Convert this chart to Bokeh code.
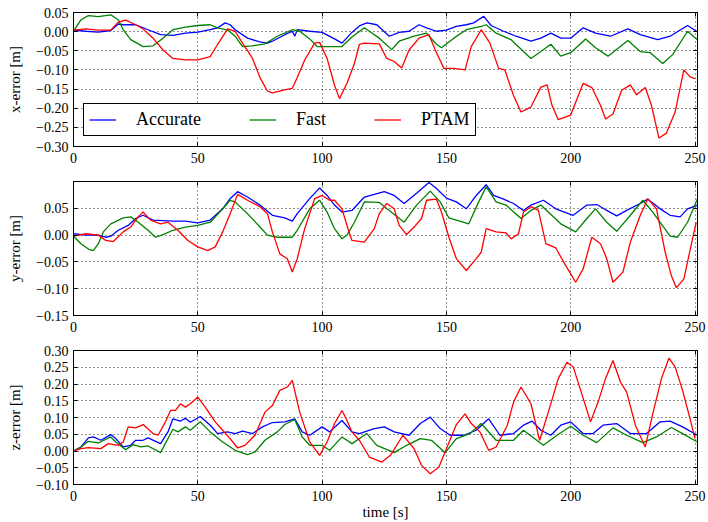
from bokeh.plotting import figure
from bokeh.models import Range1d, FixedTicker, LinearAxis, CustomJSTickFormatter
from bokeh.layouts import column
from bokeh.embed import file_html
from bokeh.resources import INLINE

# ---------------- data ----------------
series_names = ["Accurate", "Fast", "PTAM"]
series_colors = ["#0000ff", "#008000", "#ff0000"]

x_ticks = [0, 50, 100, 150, 200, 250]
xerr_ticks = [-0.30, -0.25, -0.20, -0.15, -0.10, -0.05, 0.0, 0.05]
yerr_ticks = [-0.15, -0.10, -0.05, 0.0, 0.05]
zerr_ticks = [-0.10, -0.05, 0.0, 0.05, 0.10, 0.15, 0.20, 0.25, 0.30]

# x-error
acc_x_t = [0,5,10,15,18,20,25,30,35,40,45,50,55,58,61,63,65,70,75,78,80,85,88,89,90,95,100,105,108,112,
           115,118,122,127,131,135,139,142,146,150,154,158,161,165,168,173,178,184,188,192,196,200,205,210,216,
           223,228,235,240,247,251]
acc_x_v = [0.004,0.001,-0.001,0.003,0.02,0.018,0.018,0.005,-0.008,-0.01,-0.004,-0.001,0.005,0.01,0.023,0.018,
           0.005,-0.017,-0.027,-0.03,-0.025,-0.008,0.001,-0.012,0.005,0.001,-0.002,-0.019,-0.03,-0.002,
           0.015,0.023,0.018,-0.012,-0.002,0.001,0.018,0.01,0.001,0.004,0.014,0.018,0.023,0.04,0.016,0.001,
           -0.012,-0.025,-0.017,-0.004,-0.017,-0.017,0.01,-0.004,-0.012,0.007,-0.008,-0.021,-0.012,0.016,-0.001]
fast_x_t = [0,3,6,10,15,18,20,23,28,32,36,40,45,50,55,58,62,65,68,72,77,82,88,91,95,98,105,108,112,117,
            119,123,128,131,137,142,146,148,153,158,164,166,170,176,181,184,188,192,196,200,206,210,215,223,
            228,232,237,241,247,251]
fast_x_v = [0.001,0.031,0.042,0.039,0.044,0.031,0.005,-0.021,-0.039,-0.037,-0.017,0.005,0.012,0.016,0.018,
            0.01,0.004,-0.012,-0.039,-0.037,-0.032,-0.012,0.005,0.001,-0.019,-0.039,-0.039,-0.039,-0.014,0.01,
            0.001,-0.017,-0.047,-0.025,-0.012,-0.004,-0.033,-0.042,-0.017,0.005,0.014,0.018,-0.004,-0.021,
            -0.052,-0.07,-0.052,-0.033,-0.064,-0.055,-0.019,-0.042,-0.064,-0.023,-0.052,-0.055,-0.083,-0.06,
            0.001,-0.021]
ptam_x_t = [0,5,10,15,18,21,25,28,32,36,40,45,50,55,58,62,65,68,72,75,78,80,85,88,90,93,97,99,102,105,
            107,110,113,115,117,123,126,129,132,135,139,143,145.5,149,153,157.5,160,164,167.5,171,
            173.5,177,180,184,188,190.5,192.5,195,200,205,208.5,212,214,217,220.5,224,226.5,230,232.5,235.5,
            238.5,242,245.5,248,250]
ptam_x_v = [0.004,0.007,0.004,0.004,0.025,0.03,0.018,0.007,-0.017,-0.048,-0.07,-0.074,-0.074,-0.065,-0.033,
            0.007,0.001,-0.03,-0.07,-0.12,-0.155,-0.16,-0.152,-0.148,-0.12,-0.074,-0.03,-0.028,-0.07,-0.14,
            -0.175,-0.135,-0.083,-0.033,-0.03,-0.032,-0.07,-0.078,-0.095,-0.048,-0.017,-0.008,-0.048,-0.096,
            -0.096,-0.1,-0.039,0.005,-0.03,-0.096,-0.1,-0.167,-0.21,-0.197,-0.145,-0.139,-0.193,-0.23,-0.218,
            -0.135,-0.146,-0.193,-0.228,-0.215,-0.153,-0.139,-0.165,-0.146,-0.193,-0.278,-0.265,-0.21,-0.1,
            -0.118,-0.123]

# y-error
acc_y_t = [0,5,10,13,15,18,22,25,28,32,40,45,50,55,60,63,66,70,75,80,85,88,90,95,99,102,105,108,112,117,
           125,129,133,138,143,146,150,154,158,162,166,169,173,177,181,184,189,194,201,206.5,210.5,214.5,
           218.5,222.5,228,231,236,240,244,247,251]
acc_y_v = [0.0025,0.0,0.0,-0.004,-0.002,0.009,0.018,0.031,0.037,0.028,0.026,0.026,0.023,0.028,0.049,0.068,
           0.081,0.071,0.056,0.037,0.032,0.026,0.04,0.068,0.088,0.074,0.056,0.043,0.046,0.071,0.081,0.074,
           0.059,0.078,0.098,0.087,0.069,0.062,0.049,0.074,0.094,0.074,0.067,0.059,0.046,0.056,0.065,0.049,
           0.037,0.056,0.057,0.046,0.036,0.046,0.059,0.067,0.049,0.037,0.034,0.049,0.056]
fast_y_t = [0,3,6,8,10,12,15,20,23,26,30,33,36,40,45,50,55,60,63,65,70,75,78,82,88,90,95,99,102,105,
            108,110,113,117,123,127,133,138,143.5,147.5,151,154,159,163,166,170,174,180,184,188,196,202,
            206.5,210,214.5,218.5,224,229,233,240,243,247,251]
fast_y_v = [-0.002,-0.016,-0.026,-0.029,-0.016,0.006,0.021,0.032,0.034,0.024,0.009,-0.004,0.001,0.009,
            0.015,0.018,0.024,0.049,0.065,0.062,0.04,0.015,0.0,-0.004,-0.004,0.009,0.049,0.065,0.043,0.012,
            -0.007,0.0,0.024,0.062,0.061,0.046,0.024,0.056,0.082,0.062,0.032,0.028,0.021,0.062,0.09,0.062,
            0.056,0.031,0.046,0.056,0.021,0.006,0.031,0.049,0.024,0.007,0.037,0.065,0.043,-0.002,-0.004,
            0.024,0.068]
ptam_y_t = [0,5,10,13,16,20,23,26,28,31,35,38,42,46,50,54,57,60,63,66,70,75,78,80,83,86,88,90,93,97,
            100,103,105,108,110,112,117,121,123,126,129,131,134,137,140,142,146,148,151,154,158,162,164,
            166,170,174,176,179,181,184,187,190,194,198,202,205,208.5,212,214.5,217,221,224,228,231,234.5,
            238,240.5,242.5,245.5,249,250.5]
ptam_y_v = [-0.002,0.0025,0.0,-0.01,-0.012,0.006,0.015,0.034,0.043,0.028,0.021,0.024,0.009,-0.01,-0.022,
            -0.029,-0.022,0.006,0.04,0.076,0.065,0.053,0.04,0.006,-0.035,-0.044,-0.069,-0.044,0.012,0.068,
            0.074,0.065,0.065,0.049,0.018,-0.01,-0.013,0.012,0.04,0.059,0.049,0.018,0.001,0.015,0.031,0.065,
            0.067,0.043,-0.004,-0.044,-0.066,-0.044,-0.032,0.012,0.006,0.004,-0.007,0.0025,0.043,0.053,
            0.046,-0.016,-0.024,-0.057,-0.088,-0.063,-0.004,-0.016,-0.044,-0.088,-0.069,-0.013,0.037,0.068,
            0.049,-0.032,-0.076,-0.098,-0.082,-0.007,0.024]

# z-error
acc_z_t = [0,3,6,8,11,15,17,20,23,25,28,30,35,38,40,43,45,47,51,55,58,62,65,68,72,76,80,85,89,92,
           95,100,103,108,112,115,121,125,129,135,139.5,143.5,147.5,151.5,157,162,167,171.5,177,181,
           184.5,188,192,196,200,205,209,213,218.5,224,230.5,236,240,245,251]
acc_z_v = [0,0.012,0.039,0.042,0.032,0.049,0.037,0.012,0.017,0.032,0.032,0.039,0.022,0.057,0.096,0.089,
           0.098,0.086,0.103,0.077,0.052,0.057,0.052,0.059,0.052,0.072,0.085,0.087,0.096,0.057,0.047,0.072,
           0.057,0.091,0.057,0.052,0.067,0.072,0.057,0.047,0.082,0.101,0.067,0.047,0.047,0.062,0.096,0.047,
           0.052,0.077,0.089,0.062,0.047,0.077,0.087,0.052,0.052,0.077,0.082,0.052,0.052,0.087,0.089,0.072,
           0.047]
fast_z_t = [0,3,6,10,15,17,21,24,27,30,35,40,42,45,47,51,55,60,65,70,73,77,82,85,89,92,95,100,103,108,
            112,118,122,129,134,139.5,144,149.5,154,159.5,164,170,177,181,189,194.5,200,205,210.5,217,
            222.5,229,234.5,240.5,245,251]
fast_z_v = [0,0.012,0.029,0.024,0.042,0.027,0.004,0.019,0.012,0.015,-0.005,0.065,0.057,0.072,0.062,0.087,
            0.057,0.027,0.002,-0.011,-0.003,0.032,0.057,0.079,0.094,0.042,0.017,0.017,0.002,0.042,0.022,
            0.052,0.017,-0.005,0.017,0.037,0.032,-0.005,0.037,0.052,0.082,0.032,0.032,0.062,0.017,0.047,
            0.074,0.047,0.025,0.069,0.047,0.025,0.042,0.07,0.052,0.027]
ptam_z_t = [0,3,6,11,14,18,20,22,25,28,32,34,37,39,41,43,45,47,50,53,57,60,63,66,69,73,77,80,83,86,
            88,91,95,99,102,105,108,110,112,115,119,124,127.5,132.5,137,140,143.5,147,150,154,157.5,160,
            163.5,167,170,174.5,177,180,184,187.5,191,195,198.5,201,204,208,211,214,217,220,222.5,226,230,
            233,236.5,239.5,242,245,248,250]
ptam_z_v = [0,0.007,0.01,0.007,0.022,0.017,0.027,0.072,0.069,0.079,0.052,0.047,0.087,0.121,0.121,0.141,
            0.131,0.141,0.161,0.131,0.087,0.062,0.037,0.009,0.017,0.047,0.116,0.136,0.181,0.191,0.211,0.116,
            0.027,-0.013,0.027,0.082,0.121,0.091,0.057,0.032,-0.018,-0.033,-0.013,0.047,0.007,-0.043,-0.068,
            -0.048,0.007,0.079,0.111,0.082,0.057,0.002,0.012,0.077,0.146,0.191,0.141,0.032,0.116,0.216,0.265,
            0.251,0.181,0.087,0.146,0.216,0.27,0.206,0.176,0.077,0.012,0.111,0.216,0.277,0.251,0.181,0.096,
            0.037]

# ---------------- styling ----------------
FONT = "Liberation Serif"
YFMT = "const s = Math.abs(tick).toFixed(2); return (tick < -1e-9 ? '\u2212' : '') + s;"


def style_axis(ax):
    ax.major_tick_in = 4
    ax.major_tick_out = 0
    ax.minor_tick_in = 0
    ax.minor_tick_out = 0
    ax.axis_line_color = "black"
    ax.major_tick_line_color = "black"
    ax.major_label_text_font = FONT
    ax.major_label_text_font_size = "14px"
    ax.major_label_text_color = "black"
    ax.axis_label_text_font = FONT
    ax.axis_label_text_font_size = "15px"
    ax.axis_label_text_font_style = "normal"
    ax.axis_label_text_color = "black"


def make_fig(height, top, bottom, yr, yticks, ylabel, xlabel=None):
    p = figure(width=708, height=height, x_range=Range1d(0, 251), y_range=Range1d(*yr),
               output_backend="svg", toolbar_location=None, tools="",
               min_border_left=73, min_border_right=11, min_border_top=top, min_border_bottom=bottom)
    p.outline_line_color = "black"
    p.outline_line_alpha = 1
    p.background_fill_color = "white"
    p.border_fill_color = "white"

    xa = p.xaxis[0]
    ya = p.yaxis[0]
    xa.ticker = FixedTicker(ticks=x_ticks)
    ya.ticker = FixedTicker(ticks=yticks)
    ya.formatter = CustomJSTickFormatter(code=YFMT)
    style_axis(xa)
    style_axis(ya)
    xa.major_label_standoff = 6
    ya.major_label_standoff = 5
    ya.axis_label = ylabel
    ya.axis_label_standoff = 10
    if xlabel:
        xa.axis_label = xlabel
        xa.axis_label_standoff = 0

    # inward ticks on top and right, no labels
    for loc, tk in (("right", yticks), ("above", x_ticks)):
        ax = LinearAxis(ticker=FixedTicker(ticks=tk), formatter=CustomJSTickFormatter(code="return '';"))
        style_axis(ax)
        ax.major_label_text_font_size = "1px"
        ax.major_label_standoff = 0
        p.add_layout(ax, loc)

    for g in (p.xgrid[0], p.ygrid[0]):
        g.grid_line_color = "black"
        g.grid_line_alpha = 0.85
        g.grid_line_dash = "1 3"
        g.grid_line_width = 1
    return p


p1 = make_fig(170, 12, 24, (-0.30, 0.05), xerr_ticks, "x-error [m]")
p2 = make_fig(169, 11, 24, (-0.15, 0.10), yerr_ticks, "y-error [m]")
p3 = make_fig(183, 11, 38, (-0.10, 0.30), zerr_ticks, "z-error [m]", "time [s]")

plots = [
    (p1, [(acc_x_t, acc_x_v), (fast_x_t, fast_x_v), (ptam_x_t, ptam_x_v)]),
    (p2, [(acc_y_t, acc_y_v), (fast_y_t, fast_y_v), (ptam_y_t, ptam_y_v)]),
    (p3, [(acc_z_t, acc_z_v), (fast_z_t, fast_z_v), (ptam_z_t, ptam_z_v)]),
]
for i, (p, series) in enumerate(plots):
    for (t, v), name, col in zip(series, series_names, series_colors):
        if i == 0:
            p.line(t, v, line_color=col, line_width=1.3, legend_label=name)
        else:
            p.line(t, v, line_color=col, line_width=1.3)

lg = p1.legend[0]
lg.orientation = "horizontal"
lg.location = (10, 10)
lg.label_text_font = FONT
lg.label_text_font_size = "18px"
lg.label_text_line_height = 0.85
lg.label_text_color = "black"
lg.glyph_width = 27
lg.glyph_height = 15
lg.label_height = 15
lg.label_standoff = 20
lg.spacing = 48
lg.padding = 5
lg.margin = 0
lg.border_line_color = "black"
lg.border_line_width = 1
lg.border_line_alpha = 1
lg.background_fill_color = "white"
lg.background_fill_alpha = 1

layout = column(p1, p2, p3)
open("out.html", "w").write(file_html(layout, INLINE))
